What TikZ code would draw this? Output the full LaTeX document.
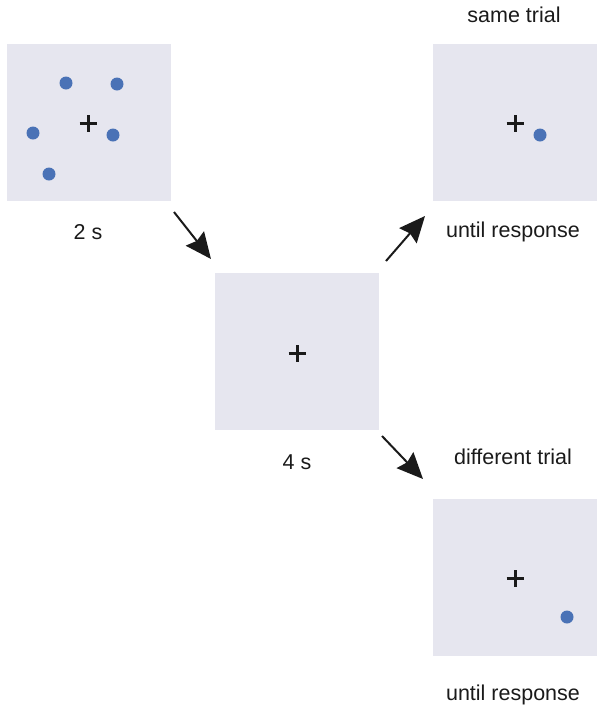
\documentclass[tikz,border=0pt]{standalone}
\usepackage{fontspec}
\setmainfont{Liberation Sans}
\usetikzlibrary{arrows.meta}
\definecolor{panel}{HTML}{E6E6EF}
\definecolor{dotblue}{HTML}{4A72B6}
\definecolor{ink}{HTML}{1A1A1A}
\tikzset{
  panelbox/.style={draw=none,fill=panel,minimum width=164pt,minimum height=157pt,inner sep=0pt,outer sep=0pt},
  lbl/.style={font=\fontsize{21.5pt}{24pt}\selectfont,text=ink,inner sep=0pt},
  stim/.style={fill=dotblue,draw=none},
  fix/.style={draw=ink,line width=3pt},
  flow/.style={draw=ink,line width=2pt,-{Stealth[length=26pt,width=23pt,inset=3pt]}}
}
\begin{document}
\begin{tikzpicture}[x=1pt,y=-1pt]
\useasboundingbox (0,0) rectangle (604,713);
% panels
\node[panelbox] (p1) at (89,122.5) {};
\node[panelbox] (p2) at (297,351.5) {};
\node[panelbox] (p3) at (514.5,122) {};
\node[panelbox] (p4) at (514.5,577.5) {};
% fixation crosses
\foreach \c/\x/\y in {c1/88/123, c2/297/353, c3/515/123, c4/515/578}{
  \coordinate (\c) at (\x,\y);
  \draw[fix] ([xshift=-8.5pt]\c) -- ([xshift=8.5pt]\c);
  \draw[fix] ([yshift=-8.5pt]\c) -- ([yshift=8.5pt]\c);
}
% dots
\foreach \x/\y in {66/83, 117/84, 33/133, 113/135, 49/174, 540/135, 567/617}{
  \fill[stim] (\x,\y) circle (6.5pt);
}
% labels
\node[lbl] (t1) at (88,232) {2 s};
\node[lbl] (t2) at (297,462) {4 s};
\node[lbl] (t3) at (514,15) {same trial};
\node[lbl] (t4) at (513,232) {until response};
\node[lbl] (t5) at (513,457) {different trial};
\node[lbl] (t6) at (513,695) {until response};
% arrows
\coordinate (a1s) at (174,212);
\coordinate (a1e) at (211,259);
\coordinate (a2s) at (386,261);
\coordinate (a2e) at (425,216);
\coordinate (a3s) at (382,436);
\coordinate (a3e) at (423,479);
\draw[flow] (a1s) -- (a1e);
\draw[flow] (a2s) -- (a2e);
\draw[flow] (a3s) -- (a3e);
\end{tikzpicture}
\end{document}
